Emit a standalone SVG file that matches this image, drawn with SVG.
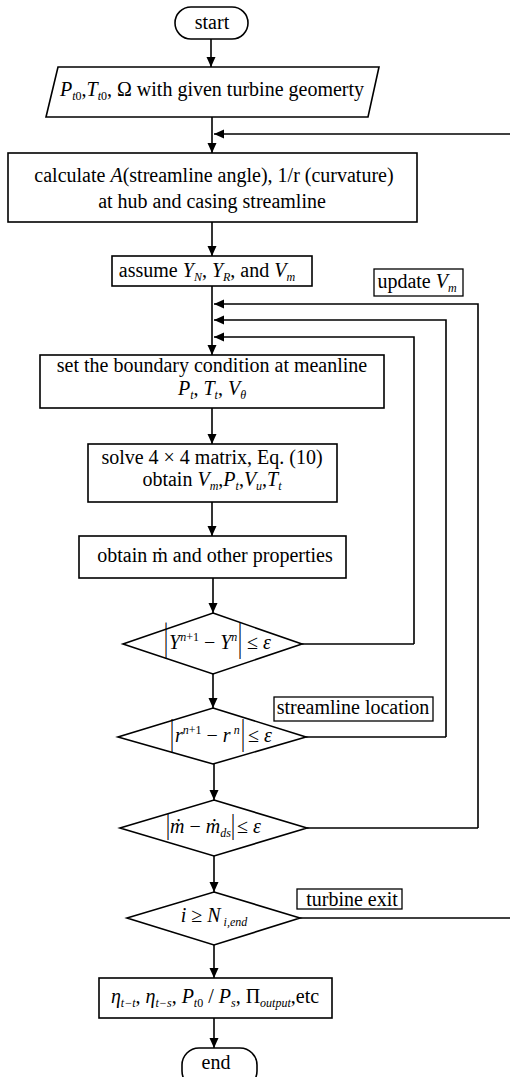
<svg xmlns="http://www.w3.org/2000/svg" width="510" height="1077" viewBox="0 0 510 1077">
  <style>
    .box { fill: #fff; stroke: #000; stroke-width: 1.6; }
    .tag { fill: #fff; stroke: #000; stroke-width: 1.3; }
    .wire { fill: none; stroke: #000; stroke-width: 1.6; }
    .t { font-family: "Liberation Serif", "Times New Roman", "DejaVu Serif", serif; font-size: 20px; fill: #000; }
    .i { font-style: italic; }
    .s { font-size: 12px; }
    .abs { opacity: 0.99; }
  </style>
  <defs>
    <marker id="arrow" viewBox="0 0 10 10" refX="10" refY="5" markerWidth="10" markerHeight="10" markerUnits="userSpaceOnUse" orient="auto">
      <path d="M0,0.5 L10,5 L0,9.5 Z" fill="#000"/>
    </marker>
  </defs>

  <!-- connectors -->
  <g id="connectors">
    <path class="wire" d="M211,39 V67" marker-end="url(#arrow)"/>
    <path class="wire" d="M212,117 V153" marker-end="url(#arrow)"/>
    <path class="wire" d="M510,134 H214" marker-end="url(#arrow)"/>
    <path class="wire" d="M212,222 V256" marker-end="url(#arrow)"/>
    <path class="wire" d="M212,286 V355" marker-end="url(#arrow)"/>
    <path class="wire" d="M478,828 V304 H214" marker-end="url(#arrow)"/>
    <path class="wire" d="M446,737 V320 H214" marker-end="url(#arrow)"/>
    <path class="wire" d="M414,644 V337 H214" marker-end="url(#arrow)"/>
    <path class="wire" d="M212,408 V444" marker-end="url(#arrow)"/>
    <path class="wire" d="M212,502 V536" marker-end="url(#arrow)"/>
    <path class="wire" d="M213,578 V613" marker-end="url(#arrow)"/>
    <path class="wire" d="M213,674 V708" marker-end="url(#arrow)"/>
    <path class="wire" d="M214,764 V800" marker-end="url(#arrow)"/>
    <path class="wire" d="M214,856 V892" marker-end="url(#arrow)"/>
    <path class="wire" d="M214,945 V978" marker-end="url(#arrow)"/>
    <path class="wire" d="M214,1018 V1048" marker-end="url(#arrow)"/>
    <path class="wire" d="M302,644 H414"/>
    <path class="wire" d="M306,737 H446"/>
    <path class="wire" d="M307,828 H478"/>
    <path class="wire" d="M300,918 H510"/>
  </g>

  <g id="start">
    <rect class="box" x="175" y="7" width="73" height="32" rx="16"/>
    <text class="t" x="212" y="29" text-anchor="middle">start</text>
  </g>

  <g id="input">
    <polygon class="box" points="58,67 379,67 368,117 46,117"/>
    <text class="t" x="212" y="96" text-anchor="middle"><tspan class="i">P</tspan><tspan class="s" dy="4"><tspan class="i">t</tspan>0</tspan><tspan dy="-4">,</tspan><tspan class="i">T</tspan><tspan class="s" dy="4"><tspan class="i">t</tspan>0</tspan><tspan dy="-4">, Ω with given turbine geomerty</tspan></text>
  </g>

  <g id="geometry">
    <rect class="box" x="8" y="153" width="409" height="69"/>
    <text class="t" x="214" y="182" text-anchor="middle">calculate <tspan class="i">A</tspan>(streamline angle), 1/r (curvature)</text>
    <text class="t" x="212" y="208" text-anchor="middle">at hub and casing streamline</text>
  </g>

  <g id="assume">
    <rect class="box" x="112" y="256" width="200" height="30"/>
    <text class="t" x="207" y="277" text-anchor="middle">assume <tspan class="i">Y</tspan><tspan class="s i" dy="4">N</tspan><tspan dy="-4">, </tspan><tspan class="i">Y</tspan><tspan class="s i" dy="4">R</tspan><tspan dy="-4">, and </tspan><tspan class="i">V</tspan><tspan class="s i" dy="4">m</tspan></text>
  </g>

  <g id="update-vm">
    <rect class="tag" x="374" y="269" width="89" height="27"/>
    <text class="t" x="417" y="288" text-anchor="middle">update <tspan class="i">V</tspan><tspan class="s i" dy="4">m</tspan></text>
  </g>

  <g id="boundary">
    <rect class="box" x="40" y="355" width="344" height="53"/>
    <text class="t" x="212" y="372" text-anchor="middle">set the boundary condition at meanline</text>
    <text class="t" x="212" y="395" text-anchor="middle"><tspan class="i">P</tspan><tspan class="s i" dy="4">t</tspan><tspan dy="-4">, </tspan><tspan class="i">T</tspan><tspan class="s i" dy="4">t</tspan><tspan dy="-4">, </tspan><tspan class="i">V</tspan><tspan class="s i" dy="4">θ</tspan></text>
  </g>

  <g id="solve">
    <rect class="box" x="88" y="444" width="249" height="58"/>
    <text class="t" x="212" y="464" text-anchor="middle">solve 4 × 4 matrix, Eq. (10)</text>
    <text class="t" x="212" y="486" text-anchor="middle">obtain <tspan class="i">V</tspan><tspan class="s i" dy="4">m</tspan><tspan dy="-4">,</tspan><tspan class="i">P</tspan><tspan class="s i" dy="4">t</tspan><tspan dy="-4">,</tspan><tspan class="i">V</tspan><tspan class="s i" dy="4">u</tspan><tspan dy="-4">,</tspan><tspan class="i">T</tspan><tspan class="s i" dy="4">t</tspan></text>
  </g>

  <g id="properties">
    <rect class="box" x="79" y="536" width="267" height="42"/>
    <text class="t" x="215" y="562" text-anchor="middle">obtain ṁ and other properties</text>
  </g>

  <!-- convergence of the loss coefficients; tall bars are stretched "|" glyphs -->
  <g id="check-y">
    <polygon class="box" points="213,613 302,644 213,674 123,644"/>
    <text class="t abs" transform="translate(164,650) scale(1,2.05)">|</text>
    <text class="t" x="169" y="649"><tspan class="i">Y</tspan><tspan class="s i" dy="-8">n</tspan><tspan class="s">+1</tspan><tspan dy="8"> − </tspan><tspan class="i">Y</tspan><tspan class="s i" dy="-8">n</tspan></text>
    <text class="t abs" transform="translate(238,650) scale(1,2.05)">|</text>
    <text class="t" x="247" y="649">≤ <tspan class="i">ε</tspan></text>
  </g>

  <g id="streamline-location">
    <rect class="tag" x="274" y="697" width="159" height="24"/>
    <text class="t" x="353" y="714" text-anchor="middle">streamline location</text>
  </g>

  <g id="check-r">
    <polygon class="box" points="213,708 306,737 213,764 118,737"/>
    <text class="t abs" transform="translate(170,744) scale(1,1.8)">|</text>
    <text class="t" x="175" y="742"><tspan class="i">r</tspan><tspan class="s i" dy="-8">n</tspan><tspan class="s">+1</tspan><tspan dy="8"> − </tspan><tspan class="i">r</tspan><tspan class="s i" dy="-8"> n</tspan></text>
    <text class="t abs" transform="translate(241,744) scale(1,1.8)">|</text>
    <text class="t" x="248" y="742">≤ <tspan class="i">ε</tspan></text>
  </g>

  <g id="check-mass">
    <polygon class="box" points="214,800 307,828 214,856 120,828"/>
    <text class="t abs" transform="translate(166,833.5) scale(1,1.5)">|</text>
    <text class="t" x="170" y="833"><tspan class="i">ṁ</tspan> − <tspan class="i">ṁ</tspan><tspan class="s i" dy="4">ds</tspan></text>
    <text class="t abs" transform="translate(231,833.5) scale(1,1.5)">|</text>
    <text class="t" x="237" y="833">≤ <tspan class="i">ε</tspan></text>
  </g>

  <g id="turbine-exit">
    <rect class="tag" x="297" y="889" width="105" height="20"/>
    <text class="t" x="352" y="906" text-anchor="middle">turbine exit</text>
  </g>

  <g id="check-station">
    <polygon class="box" points="214,892 300,918 214,945 127,918"/>
    <text class="t" x="214" y="922" text-anchor="middle"><tspan class="i">i</tspan> ≥ <tspan class="i">N</tspan><tspan class="s i" dy="4"> i,end</tspan></text>
  </g>

  <g id="results">
    <rect class="box" x="99" y="978" width="233" height="40"/>
    <text class="t" x="215" y="1003" text-anchor="middle"><tspan class="i">η</tspan><tspan class="s i" dy="4">t−t</tspan><tspan dy="-4">, </tspan><tspan class="i">η</tspan><tspan class="s i" dy="4">t−s</tspan><tspan dy="-4">, </tspan><tspan class="i">P</tspan><tspan class="s" dy="4"><tspan class="i">t</tspan>0</tspan><tspan dy="-4"> / </tspan><tspan class="i">P</tspan><tspan class="s i" dy="4">s</tspan><tspan dy="-4">, Π</tspan><tspan class="s i" dy="4">output</tspan><tspan dy="-4">,etc</tspan></text>
  </g>

  <g id="end">
    <rect class="box" x="182" y="1048" width="75" height="40" rx="17"/>
    <text class="t" x="216" y="1069" text-anchor="middle">end</text>
  </g>
</svg>
